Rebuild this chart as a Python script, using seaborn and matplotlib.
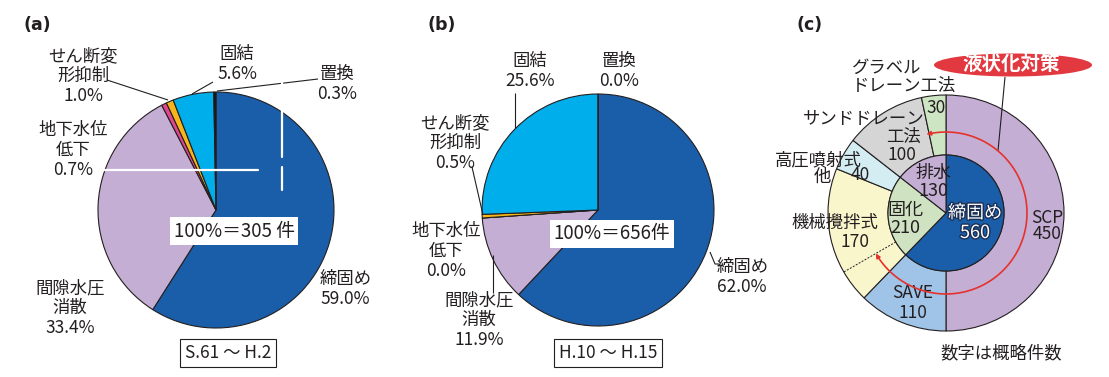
import numpy as np
import matplotlib
matplotlib.use('Agg')
import matplotlib.pyplot as plt
import matplotlib.patheffects as pe
from matplotlib.patches import Ellipse, FancyArrowPatch
from matplotlib.path import Path
import seaborn as sns

# ---- data ----
methods = ['締固め', '間隙水圧\n消散', '地下水位\n低下', 'せん断変\n形抑制', '固結', '置換']
share_a = [59.0, 33.4, 0.7, 1.0, 5.6, 0.3]     # S.61 ~ H.2
share_b = [62.0, 11.9, 0.0, 0.5, 25.6, 0.0]    # H.10 ~ H.15
total_a = 305
total_b = 656
period_a = 'S.61 ～ H.2'
period_b = 'H.10 ～ H.15'

group_names = ['締固め', '固化', '排水']
group_counts = [560, 210, 130]
method_names = ['SCP', 'SAVE', '機械攪拌式', '高圧噴射式', 'サンドドレーン', 'グラベル', 'ドレーン工法']
method_counts = [450, 110, 170, 40, 100, 30]

# ---- style ----
sns.set_theme(style='white')
plt.rcParams['font.family'] = ['Noto Sans CJK JP', 'DejaVu Sans']

W, H = 1109, 377
fig = plt.figure(figsize=(W / 100, H / 100), dpi=100)
ax = fig.add_axes([0, 0, 1, 1])


def Y(y):
    # pixel row -> data y
    return H - y


INK = '#231f20'
pie_colors = ['#1a5ea9', '#c4aed4', '#e2468f', '#f6b619', '#00aeeb', '#111111']
wp = dict(edgecolor=INK, linewidth=0.8)


def T(x, y, s, size=12.5, **kw):
    kw.setdefault('ha', 'center')
    kw.setdefault('va', 'center')
    kw.setdefault('color', INK)
    return ax.text(x, Y(y), s, fontsize=size, linespacing=1.13, **kw)


def leader(pts, color=INK, lw=0.8):
    xs = [p[0] for p in pts]
    ys = [Y(p[1]) for p in pts]
    ax.plot(xs, ys, color=color, lw=lw, solid_capstyle='butt', zorder=5)


# ---- (a) ----
ax.pie(share_a, colors=pie_colors, startangle=90, counterclock=False,
       center=(216, Y(210)), radius=118, wedgeprops=wp)
# ---- (b) ----
ax.pie(share_b, colors=pie_colors, startangle=90, counterclock=False,
       center=(598, Y(210)), radius=116, wedgeprops=wp)

lab_a = [(320, 289, 'left'), (70, 308, 'center'), (73, 150, 'center'),
         (83, 76, 'center'), (237, 64, 'center'), (337, 84, 'center')]
lab_b = [(717, 277, 'left'), (479, 320, 'center'), (446, 251, 'center'),
         (455, 143, 'center'), (530, 71, 'center'), (619, 71, 'center')]
for name, va_, (x, y, ha) in zip(methods, share_a, lab_a):
    T(x, y, f'{name}\n{va_:.1f}%', ha=ha, multialignment=ha if ha == 'left' else 'center')
for name, vb_, (x, y, ha) in zip(methods, share_b, lab_b):
    T(x, y, f'{name}\n{vb_:.1f}%', ha=ha, multialignment=ha if ha == 'left' else 'center')

leader([(107, 80), (168, 100)])
leader([(192, 94), (213, 82)])
leader([(217, 91), (318, 79)])
leader([(515, 93), (515, 128)])
leader([(472, 167), (483, 215)])
leader([(493, 255), (493, 293)])
leader([(710, 252), (715, 264), (719, 264)])

# scan artefacts seen in panel (a)
for seg in [[(100, 170), (258, 170)], [(282, 76), (282, 85)],
            [(282, 110), (282, 157)], [(282, 167), (282, 190)]]:
    ax.plot([seg[0][0], seg[1][0]], [Y(seg[0][1]), Y(seg[1][1])],
            color='white', lw=1.6, zorder=6)

T(234, 231, f'100%＝{total_a} 件', size=13.5,
  bbox=dict(boxstyle='square,pad=0.2', fc='white', ec='none'), zorder=7)
T(612, 234, f'100%＝{total_b}件', size=13.5,
  bbox=dict(boxstyle='square,pad=0.2', fc='white', ec='none'), zorder=7)
T(228, 353, period_a, size=12.5,
  bbox=dict(boxstyle='square,pad=0.3', fc='white', ec=INK, lw=0.8))
T(608, 353, period_b, size=12.5,
  bbox=dict(boxstyle='square,pad=0.3', fc='white', ec=INK, lw=0.8))

# ---- (c) ----
cx, cy = 946, 213
outer_colors = ['#c4aed4', '#9fc4e8', '#f9f6cc', '#d4edf3', '#d5d5d5', '#cde5c3']
inner_colors = ['#1a5ea9', '#cfe3c2', '#c4aed4']
ax.pie(method_counts, colors=outer_colors, startangle=90, counterclock=False,
       center=(cx, Y(cy)), radius=118, wedgeprops=dict(width=60, **wp))
ax.pie(group_counts, colors=inner_colors, startangle=90, counterclock=False,
       center=(cx, Y(cy)), radius=58, wedgeprops=wp)

# dotted divider inside 機械攪拌式
ang = np.radians(210)
ax.plot([cx + 58 * np.cos(ang), cx + 118 * np.cos(ang)],
        [Y(cy) + 58 * np.sin(ang), Y(cy) + 118 * np.sin(ang)],
        color=INK, lw=0.7, ls=(0, (2, 1.5)), zorder=5)

# red arc with arrows
th = np.radians(np.linspace(104, -150, 160))
verts = np.column_stack([cx + 81 * np.cos(th), Y(cy) + 81 * np.sin(th)])
arc = FancyArrowPatch(path=Path(verts), arrowstyle='<|-|>', mutation_scale=6,
                      color='#e5322d', lw=1.2, shrinkA=0, shrinkB=0, zorder=6)
ax.add_patch(arc)

leader([(1005, 77), (998, 151)])
ax.add_patch(Ellipse((1013, Y(65)), 158, 23, fc='#e2383f', ec='none', zorder=7))
T(1011, 64, '液状化対策', size=14, color='white', fontweight='bold', zorder=8)

# outer labels
T(1047, 218, method_names[0])
T(1047, 234, f'{method_counts[0]}')
T(913, 293, method_names[1])
T(913, 313, f'{method_counts[1]}')
T(835, 223, method_names[2])
T(855, 242, f'{method_counts[2]}')
T(818, 160, method_names[3])
T(822, 177, '他')
T(860, 175, f'{method_counts[3]}')
T(864, 118, method_names[4])
T(903, 137, '工法')
T(902, 155, f'{method_counts[4]}')
T(852, 68, method_names[5], ha='left')
T(852, 86, method_names[6], ha='left')
T(936, 108, f'{method_counts[5]}')

# inner labels
T(933, 173, group_names[2], size=13)
T(933, 191, f'{group_counts[2]}', size=13)
T(905, 210, group_names[1], size=13)
T(905, 228, f'{group_counts[1]}', size=13)
outline = [pe.withStroke(linewidth=2, foreground='#1b2f55')]
T(975, 213, group_names[0], size=13, color='white', path_effects=outline)
T(975, 233, f'{group_counts[0]}', size=13, color='white', path_effects=outline)

T(1001, 353, '数字は概略件数')

# panel tags
for x, tag in [(37, '(a)'), (442, '(b)'), (810, '(c)')]:
    T(x, 25, tag, size=12.5, fontweight='bold', family=['DejaVu Sans'])

ax.set_xlim(0, W)
ax.set_ylim(0, H)
ax.set_aspect('equal')
ax.axis('off')

fig.savefig('out.png', dpi=100, facecolor='white')
